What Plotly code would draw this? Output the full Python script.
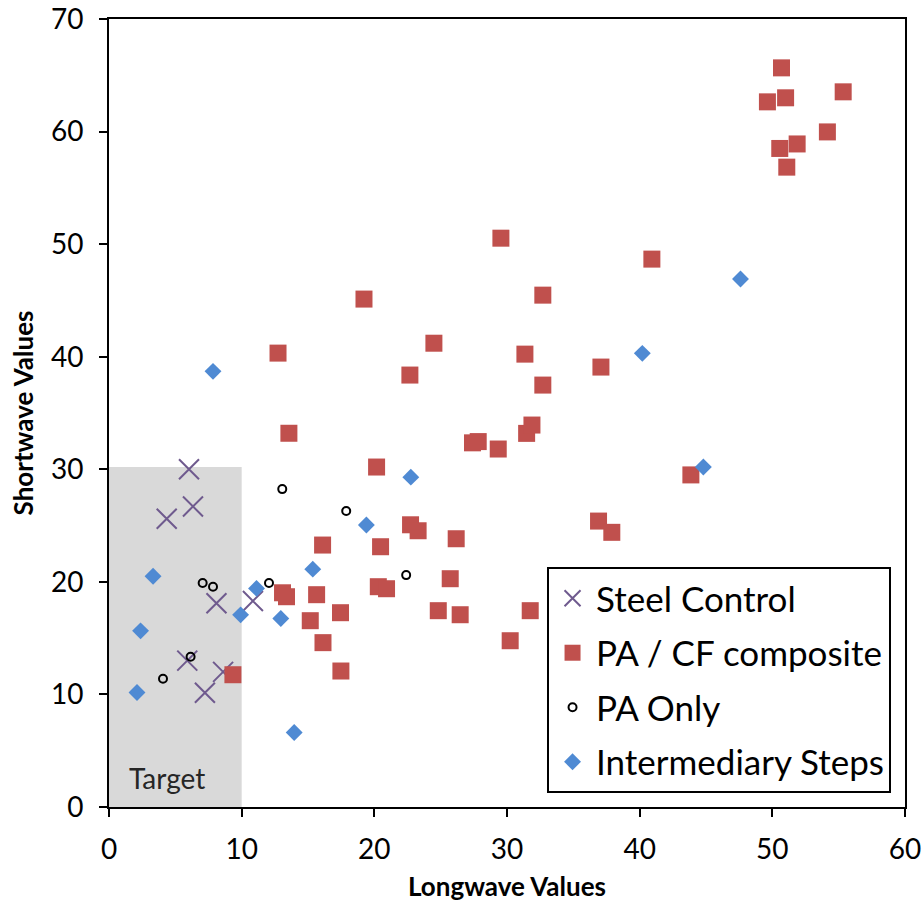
import plotly.graph_objects as go

steel_x = [6.03, 6.33, 4.35, 8.1, 10.85, 5.9, 8.6, 7.23]
steel_y = [30.0, 26.7, 25.6, 18.1, 18.3, 13.0, 12.0, 10.15]

pacf_x = [50.69, 49.63, 51.0, 55.34, 54.15, 50.56, 51.87, 51.09,
          40.92, 29.54, 19.22, 32.7, 12.74, 24.49, 31.35, 22.68, 37.08, 32.7,
          13.56, 20.17, 27.4, 27.83, 29.34, 31.48, 31.88,
          16.1, 20.47, 22.73, 23.3, 26.17,
          13.08, 13.38, 15.65, 20.3, 20.92, 25.72,
          15.17, 17.45, 16.13, 24.82, 26.47, 31.75, 30.24, 17.48, 9.34,
          36.9, 37.9, 43.86]
pacf_y = [65.66, 62.64, 63.0, 63.53, 59.97, 58.5, 58.9, 56.84,
          48.67, 50.53, 45.12, 45.47, 40.32, 41.2, 40.23, 38.37, 39.08, 37.48,
          33.2, 30.2, 32.35, 32.46, 31.8, 33.19, 33.93,
          23.27, 23.12, 25.07, 24.54, 23.83,
          19.03, 18.68, 18.86, 19.57, 19.39, 20.28,
          16.55, 17.26, 14.6, 17.44, 17.08, 17.44, 14.77, 12.08, 11.75,
          25.4, 24.4, 29.5]

pa_x = [13.06, 7.06, 7.84, 12.06, 6.15, 4.07, 17.88, 22.4]
pa_y = [28.24, 19.9, 19.57, 19.9, 13.35, 11.4, 26.3, 20.6]

inter_x = [7.84, 47.6, 40.2, 44.8, 22.75, 19.4, 15.36, 11.12, 12.95, 9.92, 3.32, 2.38, 2.11, 13.96]
inter_y = [38.7, 46.9, 40.3, 30.2, 29.3, 25.05, 21.13, 19.42, 16.75, 17.07, 20.5, 15.65, 10.17, 6.62]

target_x = [0, 10]
target_y = [0, 30.2]

FONT = "Lato, 'Open Sans', sans-serif"

fig = go.Figure()

fig.add_trace(go.Scatter(
    x=steel_x, y=steel_y, mode="markers", name="Steel Control", legendgroup="a",
    marker=dict(symbol="x-thin", size=20, line=dict(width=2, color="#6F5A8E"), color="#6F5A8E")))
fig.add_trace(go.Scatter(
    x=pacf_x, y=pacf_y, mode="markers", name="PA / CF composite", legendgroup="b",
    marker=dict(symbol="square", size=17, color="#C0504D", line=dict(width=0))))
fig.add_trace(go.Scatter(
    x=pa_x, y=pa_y, mode="markers", name="PA Only", legendgroup="c",
    marker=dict(symbol="circle-open", size=8, line=dict(width=2, color="black"), color="black")))
fig.add_trace(go.Scatter(
    x=inter_x, y=inter_y, mode="markers", name="Intermediary Steps", legendgroup="d",
    marker=dict(symbol="diamond", size=13, color="#4F8AD3", line=dict(width=0))))

fig.add_shape(type="rect", xref="x", yref="y",
              x0=target_x[0], x1=target_x[1], y0=target_y[0], y1=target_y[1],
              fillcolor="#D9D9D9", line=dict(width=0), layer="below")
fig.add_annotation(x=1.35, y=2.6, xref="x", yref="y", text="Target", showarrow=False,
                   xanchor="left", yanchor="middle", font=dict(size=28, color="#262626", family=FONT))

axis_common = dict(showgrid=False, zeroline=False, showline=True, linecolor="black",
                   linewidth=2, mirror=True, ticks="outside", ticklen=8, tickwidth=2,
                   tickcolor="black", automargin=False, ticklabeloverflow="allow",
                   tickfont=dict(size=28, color="black", family=FONT))

fig.update_xaxes(range=[0, 60], dtick=10, tick0=0, ticklabelstandoff=8,
                 title=dict(text="<b>Longwave Values</b>", font=dict(size=26, family=FONT, color="black"),
                            standoff=14),
                 **axis_common)
fig.update_yaxes(range=[0, 70], dtick=10, tick0=0, ticklabelstandoff=10,
                 title=dict(text="<b>Shortwave Values</b>", font=dict(size=26, family=FONT, color="black"),
                            standoff=10),
                 **axis_common)

fig.update_layout(
    width=923, height=907,
    margin=dict(l=109, r=18, t=19, b=100),
    plot_bgcolor="white", paper_bgcolor="white",
    font=dict(family=FONT, color="black"),
    legend=dict(x=0.5503, y=0.3046, xanchor="left", yanchor="top",
                bgcolor="white", bordercolor="black", borderwidth=2,
                font=dict(size=35, family=FONT, color="black"),
                tracegroupgap=6, itemwidth=37),
    showlegend=True,
)

# remove the browser's default 8px body margin so the figure fills the window exactly
fig.write_html("out.html",
               config={"displayModeBar": False},
               post_script="document.body.style.margin='0';document.body.style.overflow='hidden';")
